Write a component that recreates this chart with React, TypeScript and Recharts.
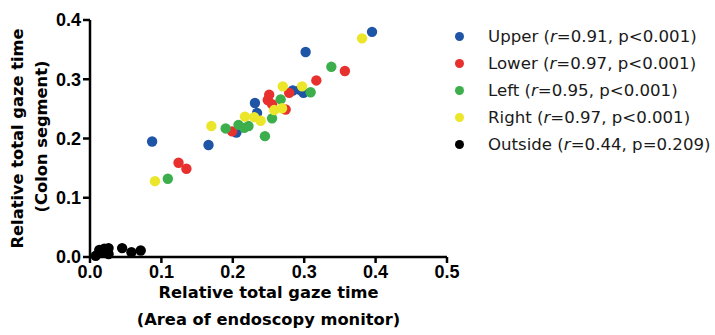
import React from "react";
import { ScatterChart, Scatter, XAxis, YAxis } from "recharts";

// Relative total gaze time: x = area of endoscopy monitor, y = colon segment
const upper = [
  { x: 0.087, y: 0.195 },
  { x: 0.166, y: 0.189 },
  { x: 0.205, y: 0.21 },
  { x: 0.231, y: 0.26 },
  { x: 0.234, y: 0.243 },
  { x: 0.284, y: 0.281 },
  { x: 0.294, y: 0.282 },
  { x: 0.299, y: 0.277 },
  { x: 0.302, y: 0.346 },
  { x: 0.395, y: 0.38 },
];

const lower = [
  { x: 0.124, y: 0.159 },
  { x: 0.135, y: 0.149 },
  { x: 0.199, y: 0.212 },
  { x: 0.249, y: 0.265 },
  { x: 0.251, y: 0.274 },
  { x: 0.255, y: 0.258 },
  { x: 0.274, y: 0.249 },
  { x: 0.279, y: 0.277 },
  { x: 0.317, y: 0.298 },
  { x: 0.357, y: 0.314 },
];

const left = [
  { x: 0.109, y: 0.132 },
  { x: 0.19, y: 0.217 },
  { x: 0.208, y: 0.223 },
  { x: 0.216, y: 0.218 },
  { x: 0.222, y: 0.221 },
  { x: 0.245, y: 0.204 },
  { x: 0.255, y: 0.234 },
  { x: 0.267, y: 0.266 },
  { x: 0.309, y: 0.278 },
  { x: 0.338, y: 0.321 },
];

const right = [
  { x: 0.091, y: 0.128 },
  { x: 0.17, y: 0.221 },
  { x: 0.217, y: 0.237 },
  { x: 0.23, y: 0.236 },
  { x: 0.239, y: 0.23 },
  { x: 0.258, y: 0.248 },
  { x: 0.269, y: 0.251 },
  { x: 0.27, y: 0.288 },
  { x: 0.297, y: 0.288 },
  { x: 0.381, y: 0.369 },
];

const outside = [
  { x: 0.008, y: 0.002 },
  { x: 0.013, y: 0.012 },
  { x: 0.016, y: 0.008 },
  { x: 0.02, y: 0.014 },
  { x: 0.023, y: 0.01 },
  { x: 0.026, y: 0.015 },
  { x: 0.026, y: 0.005 },
  { x: 0.045, y: 0.015 },
  { x: 0.058, y: 0.008 },
  { x: 0.071, y: 0.011 },
];

const xTicks = [0, 0.1, 0.2, 0.3, 0.4, 0.5];
const yTicks = [0, 0.1, 0.2, 0.3, 0.4];

const groups = [
  { name: "Upper", r: "0.91", p: "p<0.001", color: "#1f55a6", data: upper },
  { name: "Lower", r: "0.97", p: "p<0.001", color: "#e8302e", data: lower },
  { name: "Left", r: "0.95", p: "p<0.001", color: "#3cae4c", data: left },
  { name: "Right", r: "0.97", p: "p<0.001", color: "#ebe62a", data: right },
  { name: "Outside", r: "0.44", p: "p=0.209", color: "#000000", data: outside },
];

const tickStyle = {
  fill: "#000",
  fontSize: 18,
  fontWeight: "bold" as const,
  fontFamily: "'Liberation Sans', Arial, sans-serif",
};

const titleFont = "'DejaVu Sans', sans-serif";

const Dot = (props: any) => {
  const { cx, cy, fill } = props;
  if (cx == null || cy == null) return null;
  return <circle cx={cx} cy={cy} r={5.2} fill={fill} />;
};

const YTitle = ({ viewBox }: any) => {
  const cy = viewBox.y + viewBox.height / 2;
  return (
    <g fontFamily={titleFont} fontWeight="bold" fontSize={16.3} fill="#000">
      <text x={17} y={cy} textAnchor="middle" dominantBaseline="central" transform={`rotate(-90 17 ${cy})`}>
        Relative total gaze time
      </text>
      <text x={41} y={cy - 2} textAnchor="middle" dominantBaseline="central" transform={`rotate(-90 41 ${cy - 2})`}>
        (Colon segment)
      </text>
    </g>
  );
};

const XTitle = ({ viewBox }: any) => {
  const cx = viewBox.x + viewBox.width / 2;
  return (
    <g fontFamily={titleFont} fontWeight="bold" fontSize={16.3} fill="#000">
      <text x={cx} y={292} textAnchor="middle" dominantBaseline="central">
        Relative total gaze time
      </text>
      <text x={cx} y={319} textAnchor="middle" dominantBaseline="central">
        (Area of endoscopy monitor)
      </text>
    </g>
  );
};

export default function App() {
  return (
    <div style={{ position: "absolute", left: 0, top: 0, width: 715, height: 335, background: "#fff" }}>
      <ScatterChart width={715} height={335} margin={{ top: 20, right: 268, bottom: 0, left: 0 }}>
        <XAxis
          type="number"
          dataKey="x"
          domain={[0, 0.5]}
          ticks={xTicks}
          tickFormatter={(v: number) => v.toFixed(1)}
          height={78}
          tick={tickStyle}
          tickSize={6}
          tickMargin={2}
          axisLine={{ stroke: "#000", strokeWidth: 2.5 }}
          tickLine={{ stroke: "#000", strokeWidth: 2.5 }}
          label={{ content: XTitle } as any}
        />
        <YAxis
          type="number"
          dataKey="y"
          domain={[0, 0.4]}
          ticks={yTicks}
          tickFormatter={(v: number) => v.toFixed(1)}
          width={90}
          tick={tickStyle}
          tickSize={7}
          tickMargin={2}
          axisLine={{ stroke: "#000", strokeWidth: 2.5 }}
          tickLine={{ stroke: "#000", strokeWidth: 2.5 }}
          label={{ content: YTitle } as any}
        />
        {groups.map((g) => (
          <Scatter key={g.name} name={g.name} data={g.data} fill={g.color} shape={Dot} isAnimationActive={false} />
        ))}
      </ScatterChart>
      <div
        style={{
          position: "absolute",
          left: 452,
          top: 23,
          fontFamily: titleFont,
          fontSize: 16.6,
          color: "#1a1a1a",
        }}
      >
        {groups.map((g) => (
          <div key={g.name} style={{ height: 27, display: "flex", alignItems: "center" }}>
            <span
              style={{
                display: "inline-block",
                width: 9,
                height: 9,
                borderRadius: "50%",
                background: g.color,
                marginLeft: 3,
                marginRight: 24,
              }}
            />
            <span>
              {g.name} (<i>r</i>={g.r}, {g.p})
            </span>
          </div>
        ))}
      </div>
    </div>
  );
}
